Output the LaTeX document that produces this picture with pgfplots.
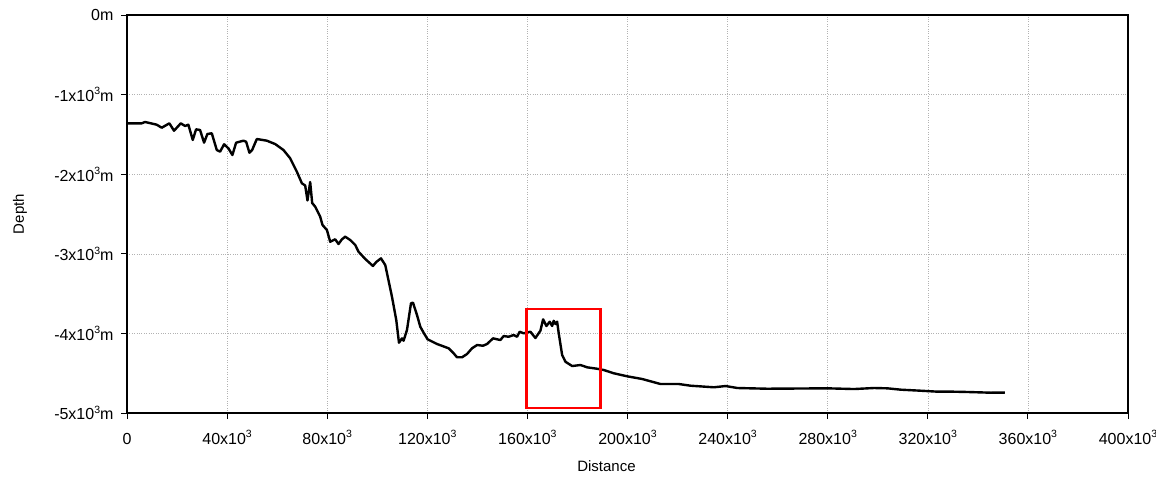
\documentclass[border=0pt]{standalone}
\usepackage{fontspec}
\setmainfont{Liberation Sans}
\usepackage{pgfplots}
\pgfplotsset{compat=1.18}
\newcommand\ex[1]{\raisebox{0.42em}{\fontsize{10.5}{10.5}\selectfont #1}}

\begin{document}
\begin{tikzpicture}
\begin{axis}[
    scale only axis,
    width=1001pt, height=398pt,
    xmin=0, xmax=400000,
    ymin=-5000, ymax=0,
    scaled ticks=false,
    xtick={0,40000,80000,120000,160000,200000,240000,280000,320000,360000,400000},
    xticklabels={0,40x10\ex{3},80x10\ex{3},120x10\ex{3},160x10\ex{3},200x10\ex{3},240x10\ex{3},280x10\ex{3},320x10\ex{3},360x10\ex{3},400x10\ex{3}},
    ytick={-5000,-4000,-3000,-2000,-1000,0},
    yticklabels={-5x10\ex{3}m,-4x10\ex{3}m,-3x10\ex{3}m,-2x10\ex{3}m,-1x10\ex{3}m,0m},
    tick align=outside,
    major tick length=6pt,
    xtick pos=bottom, ytick pos=left,
    grid=major,
    grid style={dotted, line width=0.6pt, black!30},
    axis line style={line width=1.3pt},
    tick style={line width=0.9pt, black},
    tick label style={font=\fontsize{16}{19}\selectfont},
    xticklabel style={anchor=base, yshift=-25pt},
    yticklabel style={xshift=-4pt},
    xlabel={Distance},
    ylabel={Depth},
    every axis x label/.style={at={(axis description cs:0.479,-0.133)}, anchor=center, font=\fontsize{15}{18}\selectfont},
    every axis y label/.style={at={(axis description cs:-0.107,0.5)}, rotate=90, anchor=center, font=\fontsize{15}{18}\selectfont},
]
\addplot[black, line width=2.4pt, line join=round] coordinates {
(0,-1361) (5880,-1361) (7200,-1344) (11880,-1378) (13880,-1416) (16920,-1361)
(18800,-1454) (21480,-1361) (23200,-1394) (24520,-1378) (26280,-1570) (27600,-1436)
(29200,-1445) (30800,-1604) (32120,-1495) (33880,-1486) (35880,-1696) (37200,-1717)
(38800,-1624) (40520,-1675) (42120,-1759) (43600,-1604) (46520,-1579) (47600,-1592)
(48920,-1730) (50000,-1696) (51880,-1558) (55880,-1579) (59200,-1621) (62520,-1696)
(65200,-1800) (67880,-1969) (69880,-2114) (71200,-2142) (72120,-2330) (73200,-2098)
(74000,-2362) (75200,-2408) (77200,-2534) (78120,-2638) (79880,-2701) (81200,-2848)
(83200,-2818) (84520,-2877) (85880,-2818) (87200,-2785) (89200,-2827) (91200,-2889)
(92520,-2974) (95200,-3065) (98280,-3153) (99600,-3103) (101480,-3057) (103200,-3141)
(105880,-3539) (107600,-3832) (108680,-4117) (109880,-4062) (110520,-4092) (111880,-3957)
(113480,-3622) (114280,-3614) (115880,-3769) (117200,-3916) (118520,-3991) (120120,-4074)
(123880,-4133) (128520,-4187) (130520,-4250) (131880,-4300) (133880,-4300) (135880,-4259)
(137880,-4187) (139880,-4146) (142280,-4155) (143880,-4133) (146280,-4062) (147880,-4074)
(149200,-4083) (150520,-4033) (152520,-4042) (154520,-4020) (155880,-4042) (156920,-3979)
(158520,-3999) (161200,-3979) (163200,-4058) (165200,-3966) (166280,-3823) (167600,-3907)
(168920,-3853) (169880,-3907) (170520,-3841) (171200,-3882) (171880,-3853) (172520,-3999)
(173880,-4271) (175200,-4356) (177880,-4410) (181200,-4397) (183880,-4426) (187880,-4444)
(190520,-4460) (194520,-4501) (199880,-4539) (205880,-4573) (213200,-4636) (220520,-4636)
(225200,-4657) (234520,-4677) (239200,-4661) (243880,-4686) (255880,-4695) (279880,-4690)
(290520,-4699) (298520,-4686) (303880,-4690) (309200,-4707) (317200,-4720) (323880,-4732)
(329880,-4732) (335880,-4736) (345200,-4745) (350800,-4743)
};
\addplot[red, line width=2.2pt, line join=miter] coordinates {
(159600,-3697) (189200,-3697) (189200,-4941) (159600,-4941) (159600,-3697) (189200,-3697)
};
\end{axis}
\pgfresetboundingbox
\path ([shift={(-127pt,-71pt)}]current axis.south west) rectangle ([shift={(28pt,15pt)}]current axis.north east);
\end{tikzpicture}
\end{document}
